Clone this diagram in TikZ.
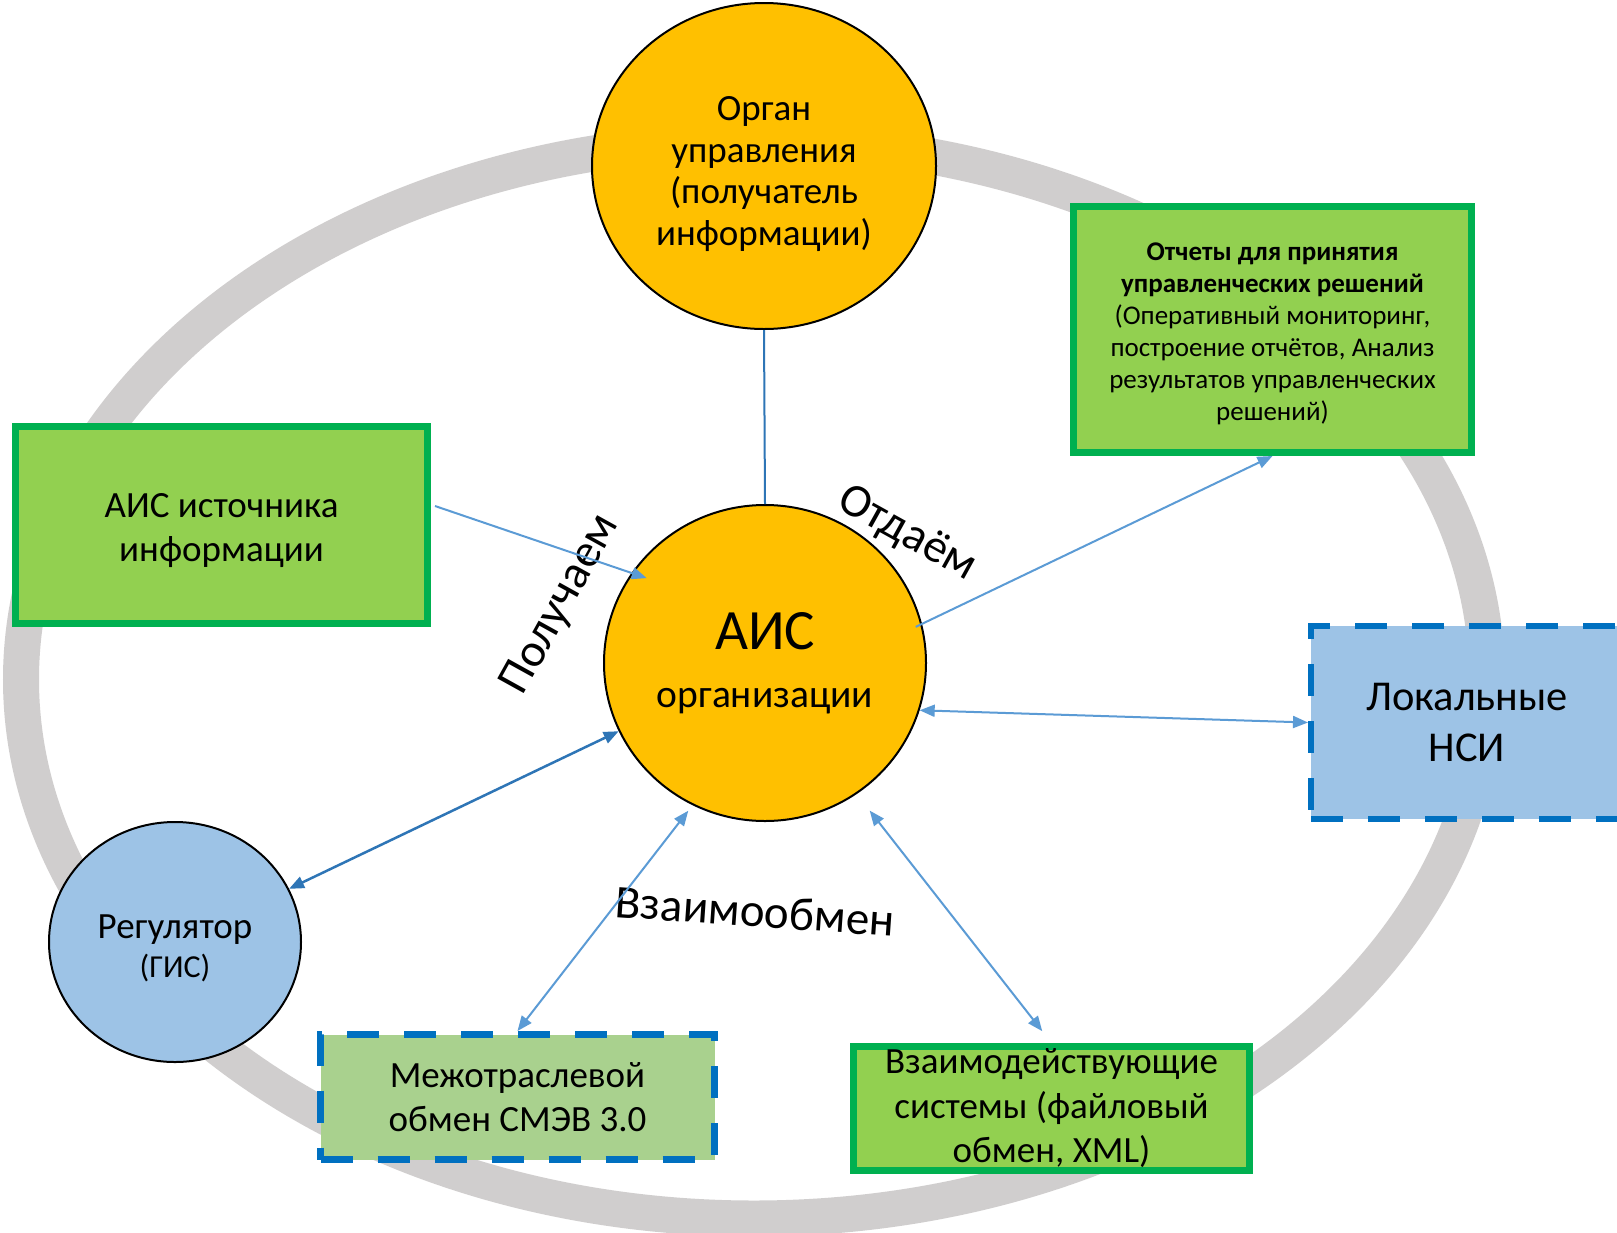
\documentclass[tikz,border=0pt]{standalone}
\usepackage{fontspec}
\setmainfont{Carlito}
\usetikzlibrary{arrows.meta,shapes.geometric}
\definecolor{orng}{HTML}{FFC000}
\definecolor{grnfill}{HTML}{92D050}
\definecolor{grnline}{HTML}{00B050}
\definecolor{bluefill}{HTML}{9DC3E6}
\definecolor{bluedash}{HTML}{0070C0}
\definecolor{lgrnfill}{HTML}{A9D18E}
\definecolor{ringgray}{HTML}{D0CECE}
\definecolor{arrowlt}{HTML}{5B9BD5}
\definecolor{arrowdk}{HTML}{2E75B6}
\tikzset{
  ringline/.style={draw=ringgray, line width=36pt},
  orangeball/.style={ellipse, draw=black, line width=2pt, fill=orng, inner sep=0pt, align=center},
  blueball/.style={ellipse, draw=black, line width=2pt, fill=bluefill, inner sep=0pt, align=center},
  greenbox/.style={rectangle, draw=grnline, line width=7pt, fill=grnfill, inner sep=0pt, align=center},
  dashbox/.style={rectangle, draw=bluedash, line width=7pt, dash pattern=on 32pt off 25pt, inner sep=0pt, align=center},
  conn/.style={draw=arrowlt, line width=2pt},
  conndark/.style={draw=arrowdk, line width=2.5pt},
  tipend/.style={-{Triangle[length=15pt,width=12pt]}},
  tipboth/.style={{Triangle[length=15pt,width=12pt]}-{Triangle[length=15pt,width=12pt]}},
  lbl/.style={inner sep=0pt, font=\fontsize{47}{56}\selectfont}
}
\begin{document}
\begin{tikzpicture}[x=1pt,y=-1pt]
\useasboundingbox (0,0) rectangle (1617,1232);
\clip (0,0) rectangle (1617,1232);
\fill[white] (0,0) rectangle (1617,1232);
% background ring
\draw[ringline] (754,679.5) ellipse [x radius=733, y radius=539];

% nodes
\node[orangeball, minimum width=344, minimum height=326, font=\fontsize{37}{41.5}\selectfont] (T) at (764,166)
  {\rule{0pt}{40pt}Орган\\управления\\(получатель\\информации)};
\node[orangeball, minimum width=322, minimum height=316, font=\fontsize{39.5}{58}\selectfont] (C) at (765,663)
  {{\fontsize{57}{58}\selectfont АИС}\\организации};
\node[blueball, minimum width=252, minimum height=240, font=\fontsize{37}{38.5}\selectfont] (G) at (175,942)
  {\rule{0pt}{36pt}Регулятор\\{\fontsize{32}{38.5}\selectfont (ГИС)}};
\node[greenbox, minimum width=412, minimum height=197, font=\fontsize{37}{44.5}\selectfont] (A) at (221.5,525)
  {\rule{0pt}{35pt}АИС источника\\информации};
\node[greenbox, minimum width=398, minimum height=246, font=\fontsize{27}{32}\selectfont] (R) at (1272.5,329.5)
  {\rule{0pt}{27pt}\textbf{Отчеты для принятия}\\\textbf{управленческих решений}\\(Оперативный мониторинг,\\построение отчётов, Анализ\\результатов управленческих\\решений)};
\node[dashbox, fill=bluefill, line width=6pt, minimum width=312, minimum height=193, font=\fontsize{42.5}{50.5}\selectfont] (L) at (1467,722.5)
  {Локальные\\НСИ};
\node[dashbox, fill=lgrnfill, minimum width=394, minimum height=125, font=\fontsize{37}{44.5}\selectfont] (M) at (517.5,1097)
  {Межотраслевой\\обмен СМЭВ 3.0};
\node[greenbox, minimum width=396, minimum height=124, font=\fontsize{37}{44.5}\selectfont] (W) at (1051.5,1108.5)
  {Взаимодействующие\\системы (файловый\\обмен, XML)};

% labels
\node[lbl, rotate=61] (lget) at (561,605) {Получаем};
\node[lbl, rotate=-29] (lgive) at (907,534) {Отдаём};
\node[lbl, rotate=-4] (lexch) at (755,911) {Взаимообмен};

% connectors
\draw[conndark, line width=2pt] (T.south) -- (C.north);
\draw[conn, tipend, shorten >=-16pt] ([xshift=4pt,yshift=19pt]A.east) -- (C.146.6);
\draw[conn, tipend, shorten <=-7pt] (C.14.7) -- (R.south);
\draw[conn, tipboth] (C.-17.9) -- (L.west);
\draw[conndark, tipboth] (G.25.2) -- (C.205.8);
\draw[conn, tipboth, shorten >=7pt] (M.north) -- (C.243.4);
\draw[conn, tipboth, shorten <=21pt, shorten >=15pt] (C.-55.7) -- (W.north);
\end{tikzpicture}
\end{document}
